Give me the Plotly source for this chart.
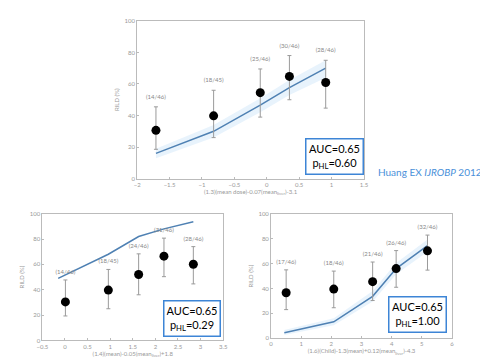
import plotly.graph_objects as go

W, H = 488, 357

# ---- Data ----
top_x = [-1.71, -0.82, -0.10, 0.35, 0.91]
top_obs = [30.6, 39.8, 54.5, 64.8, 60.9]
top_lo = [18.6, 26.0, 39.0, 50.0, 44.7]
top_hi = [45.5, 56.0, 69.5, 78.0, 75.0]
top_line_x = [-1.71, -0.82, -0.10, 0.35, 0.91]
top_line_y = [16.0, 30.0, 46.6, 57.7, 70.0]
top_band_lo = [13.0, 26.0, 42.0, 53.0, 64.0]
top_band_hi = [19.0, 34.0, 51.0, 62.5, 75.0]
top_counts = ["(14/46)", "(18/45)", "(25/46)", "(30/46)", "(28/46)"]

bl_x = [0.01, 0.96, 1.63, 2.19, 2.84]
bl_obs = [30.4, 39.7, 52.0, 66.5, 60.1]
bl_lo = [19.3, 25.0, 36.0, 50.3, 44.6]
bl_hi = [47.7, 56.0, 68.3, 80.7, 74.0]
bl_line_x = [-0.15, 0.96, 1.63, 2.19, 2.84]
bl_line_y = [49.0, 68.0, 82.0, 88.0, 93.6]
bl_counts = ["(14/46)", "(18/45)", "(24/46)", "(31/46)", "(28/46)"]

br_x = [0.50, 2.08, 3.37, 4.15, 5.19]
br_obs = [36.6, 39.5, 45.5, 56.0, 70.3]
br_lo = [23.0, 24.5, 30.3, 41.0, 54.8]
br_hi = [55.0, 54.0, 61.3, 70.5, 83.0]
br_line_x = [0.44, 2.08, 3.37, 4.15, 5.19]
br_line_y = [4.3, 13.2, 33.7, 56.0, 74.5]
br_band_lo = [2.5, 10.5, 29.5, 51.5, 69.5]
br_band_hi = [6.5, 16.0, 38.0, 60.5, 79.5]
br_counts = ["(17/46)", "(18/46)", "(21/46)", "(26/46)", "(32/46)"]

y_ticks = [0, 20, 40, 60, 80, 100]
top_xticks = [-2, -1.5, -1, -0.5, 0, 0.5, 1, 1.5]
bl_xticks = [-0.5, 0, 0.5, 1, 1.5, 2, 2.5, 3, 3.5]
br_xticks = [0, 1, 2, 3, 4, 5, 6]

top_stats = "AUC=0.65<br>p<sub>HL</sub>=0.60"
bl_stats = "AUC=0.65<br>p<sub>HL</sub>=0.29"
br_stats = "AUC=0.65<br>p<sub>HL</sub>=1.00"
citation = "Huang EX <i>IJROBP</i> 2012"

y_title = "RILD (%)"
top_xtitle = "(1.3)(mean dose)-0.07(mean<sub>liver</sub>)-3.1"
bl_xtitle = "(1.4)(mean)-0.05(mean<sub>liver</sub>)+1.8"
br_xtitle = "(1.6)(Child)-1.3(mean)+0.12(mean<sub>liver</sub>)-4.3"

LINE = "#4f81b3"
BAND = "rgba(190,222,245,0.35)"
GRAY = "#9a9a9a"

fig = go.Figure()

def panel(xs, obs, lo, hi, lx, ly, counts, xa, ya, blo=None, bhi=None):
    if blo is not None:
        fig.add_trace(go.Scatter(x=lx + lx[::-1], y=bhi + blo[::-1], fill="toself",
                                 fillcolor=BAND, line=dict(width=0), mode="lines",
                                 hoverinfo="skip", xaxis=xa, yaxis=ya, showlegend=False))
    fig.add_trace(go.Scatter(x=lx, y=ly, mode="lines", line=dict(color=LINE, width=1.5),
                             xaxis=xa, yaxis=ya, showlegend=False))
    fig.add_trace(go.Scatter(
        x=xs, y=obs, mode="markers",
        marker=dict(color="black", size=9),
        error_y=dict(type="data", symmetric=False,
                     array=[h - o for h, o in zip(hi, obs)],
                     arrayminus=[o - l for o, l in zip(obs, lo)],
                     color=GRAY, thickness=1, width=2),
        xaxis=xa, yaxis=ya, showlegend=False))
    fig.add_trace(go.Scatter(x=xs, y=[h + 6 for h in hi], mode="text", text=counts,
                             textfont=dict(size=6, color="#888"),
                             xaxis=xa, yaxis=ya, showlegend=False))

panel(top_x, top_obs, top_lo, top_hi, top_line_x, top_line_y, top_counts, "x", "y",
      top_band_lo, top_band_hi)
panel(bl_x, bl_obs, bl_lo, bl_hi, bl_line_x, bl_line_y, bl_counts, "x2", "y2")
panel(br_x, br_obs, br_lo, br_hi, br_line_x, br_line_y, br_counts, "x3", "y3",
      br_band_lo, br_band_hi)

def ax_common():
    return dict(showgrid=False, zeroline=False, showline=True, linecolor="#bbb",
                linewidth=1, mirror=True, ticks="inside", ticklen=2, tickcolor="#bbb",
                tickfont=dict(size=6, color="#999"))

def dom_x(a, b):
    return [a / W, b / W]

def dom_y(top, bottom):
    return [1 - bottom / H, 1 - top / H]

fig.update_layout(
    width=W, height=H, margin=dict(l=0, r=0, t=0, b=0),
    paper_bgcolor="white", plot_bgcolor="white",
    font=dict(family="Lato, sans-serif"),
    xaxis=dict(domain=dom_x(126, 358), range=[-2, 1.5], tickvals=top_xticks,
               anchor="y", title=dict(text=top_xtitle, font=dict(size=6, color="#999"), standoff=2),
               **ax_common()),
    yaxis=dict(domain=dom_y(9, 170), range=[0, 100], tickvals=y_ticks, anchor="x",
               title=dict(text=y_title, font=dict(size=6, color="#999"), standoff=4),
               **ax_common()),
    xaxis2=dict(domain=dom_x(29, 214), range=[-0.5, 3.5], tickvals=bl_xticks,
                anchor="y2", title=dict(text=bl_xtitle, font=dict(size=6, color="#999"), standoff=2),
                **ax_common()),
    yaxis2=dict(domain=dom_y(205.7, 335), range=[0, 100], tickvals=y_ticks, anchor="x2",
                title=dict(text=y_title, font=dict(size=6, color="#999"), standoff=4),
                **ax_common()),
    xaxis3=dict(domain=dom_x(263, 448), range=[0, 6], tickvals=br_xticks,
                anchor="y3", title=dict(text=br_xtitle, font=dict(size=6, color="#999"), standoff=2),
                **ax_common()),
    yaxis3=dict(domain=dom_y(206, 332.7), range=[0, 100], tickvals=y_ticks, anchor="x3",
                title=dict(text=y_title, font=dict(size=6, color="#999"), standoff=4),
                **ax_common()),
)

def stat_box(text, left, top, right, bottom):
    fig.add_annotation(xref="paper", yref="paper", x=(left + right) / 2 / W,
                       y=1 - bottom / H,
                       text=text, showarrow=False, align="center",
                       font=dict(size=11, color="black", family="Lato, sans-serif"),
                       bgcolor="white", bordercolor="#3d85d6", borderwidth=1.5,
                       borderpad=2, width=right - left - 8,
                       xanchor="center", yanchor="bottom")

stat_box(top_stats, 298, 132, 358, 166)
stat_box(bl_stats, 153, 297, 212, 332)
stat_box(br_stats, 383, 293, 443, 327)

fig.add_annotation(xref="paper", yref="paper", x=370 / W, y=1 - 163 / H, text=citation,
                   showarrow=False, xanchor="left", yanchor="middle",
                   font=dict(size=10, color="#4a90d9", family="Lato, sans-serif"))

fig.write_html("out.html")
